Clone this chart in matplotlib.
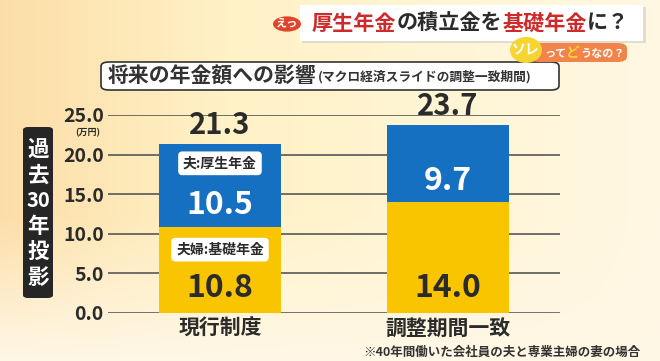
import matplotlib.pyplot as plt
import numpy as np
from matplotlib.patches import FancyBboxPatch, Circle, Ellipse

plt.rcParams['font.family'] = ['Noto Sans CJK JP', 'DejaVu Sans']

# data
categories = ['現行制度', '調整期間一致']
basic = [10.8, 14.0]      # 夫婦:基礎年金
employee = [10.5, 9.7]    # 夫:厚生年金
totals = [21.3, 23.7]
yticks = [0, 5, 10, 15, 20, 25]

W, H = 660, 361
BLUE = '#1570c2'
YELLOW = '#f9c400'
DARK = '#2b2b2b'


def fx(x):
    return x / W


def fy(y):
    return 1 - y / H


fig = plt.figure(figsize=(6.6, 3.61), dpi=100)

# background gradient
bg = fig.add_axes([0, 0, 1, 1], zorder=-10)
xx, yy = np.meshgrid(np.linspace(0, 1, 200), np.linspace(0, 1, 110))
c_left = np.array([0.99, 0.87, 0.66])
c_mid = np.array([1.0, 0.95, 0.78])
c_right = np.array([1.0, 0.97, 0.89])
t = xx[..., None]
img = np.where(t < 0.35, c_left + (c_mid - c_left) * (t / 0.35),
               c_mid + (c_right - c_mid) * ((t - 0.35) / 0.65))
# lighter towards the bottom
w = np.clip((yy[..., None] - 0.6) / 0.4, 0, 1)
img = img * (1 - w) + np.array([1.0, 0.97, 0.90]) * w
bg.imshow(img, aspect='auto', extent=[0, 1, 0, 1])
bg.set_axis_off()

# main axes
x0, x1, y_top, y_bot = 108, 560, 115, 313
ax = fig.add_axes([fx(x0), fy(y_bot), (x1 - x0) / W, (y_bot - y_top) / H])
ax.set_facecolor('none')
ax.set_ylim(0, 25)
ax.set_xlim(-0.491, 1.491)
for s in ax.spines.values():
    s.set_visible(False)
ax.set_xticks([])
ax.set_yticks(yticks)
ax.set_yticklabels([f'{v:.1f}' for v in yticks], fontsize=14, fontweight='bold', color=DARK)
ax.tick_params(axis='y', length=0, pad=3)
for v in yticks:
    ax.axhline(v, color='#4a4a4a', lw=1.1 if v else 1.8, zorder=1)

xs = np.arange(len(categories))
bw = 0.535
ax.bar(xs, basic, bw, color=YELLOW, zorder=2)
ax.bar(xs, employee, bw, bottom=basic, color=BLUE, zorder=2)

for i in xs:
    ax.text(i, totals[i] + 0.5, f'{totals[i]:.1f}', ha='center', va='bottom',
            fontsize=21, fontweight='bold', color=DARK, clip_on=False, zorder=4)
    ax.text(i, basic[i] + 0.27 * employee[i], f'{employee[i]:.1f}', ha='center', va='center',
            fontsize=23, fontweight='bold', color='white', zorder=4)
    ax.text(i, 3.2, f'{basic[i]:.1f}', ha='center', va='center',
            fontsize=23, fontweight='bold', color=DARK, zorder=4)
    ax.text(i, -0.6, categories[i], ha='center', va='top', fontsize=15,
            fontweight='bold', color=DARK, clip_on=False)

# tags on the first bar
tag_box = dict(boxstyle='round,pad=0.35,rounding_size=0.3', fc='white', ec='none')
ax.text(0, totals[0] - 2.4, '夫:厚生年金', ha='center', va='center', fontsize=10,
        fontweight='bold', color=DARK, bbox=tag_box, zorder=5)
ax.text(0, basic[0] - 2.8, '夫婦:基礎年金', ha='center', va='center', fontsize=10,
        fontweight='bold', color=DARK, bbox=tag_box, zorder=5)

fig.text(fx(88), fy(133), '(万円)', ha='center', va='center', fontsize=6.5,
         color=DARK, fontweight='bold')

# vertical label
fig.patches.append(FancyBboxPatch((fx(23), fy(298)), fx(30), (298 - 127) / H,
                                  boxstyle='round,pad=0,rounding_size=0.008',
                                  transform=fig.transFigure, fc='#262626', ec='none'))
vchars = ['過', '去', '30', '年', '投', '影']
for k, ch in enumerate(vchars):
    fig.text(fx(38), fy(150 + k * 25.4), ch, ha='center', va='center',
             fontsize=15.5 if ch != '30' else 14.5, fontweight='bold', color='white')

# subtitle box
fig.patches.append(FancyBboxPatch((fx(101), fy(90)), (559 - 101) / W, 28 / H,
                                  boxstyle='round,pad=0,rounding_size=0.012',
                                  transform=fig.transFigure, fc='white', ec='#333333', lw=1.2))
fig.text(fx(108), fy(76), '将来の年金額への影響', ha='left', va='center', fontsize=15,
         fontweight='bold', color='#333333')
fig.text(fx(318), fy(77), '(マクロ経済スライドの調整一致期間)', ha='left', va='center',
         fontsize=9.2, fontweight='bold', color='#333333')

# headline banner
fig.patches.append(FancyBboxPatch((fx(302), fy(43)), (646 - 302) / W, 36 / H,
                                  boxstyle='square,pad=0', transform=fig.transFigure,
                                  fc='#d9d2c4', ec='none', alpha=0.7))
fig.patches.append(FancyBboxPatch((fx(300), fy(41)), (643 - 300) / W, 36 / H,
                                  boxstyle='square,pad=0', transform=fig.transFigure,
                                  fc='white', ec='none'))
fig.patches.append(Circle((fx(287), fy(24)), 14 / W, transform=fig.transFigure,
                          fc='#e0452c', ec='none'))
fig.text(fx(287), fy(23), 'えっ', ha='center', va='center', fontsize=8,
         fontweight='bold', color='white')

renderer = fig.canvas.get_renderer()
parts = [('厚生年金', '#cf2a2a'), ('の積立金を', '#2b2b2b'), ('基礎年金', '#cf2a2a'), ('に？', '#2b2b2b')]
xpos = 312
for txt, col in parts:
    tt = fig.text(fx(xpos), fy(23), txt, ha='left', va='center', fontsize=15.2,
                  fontweight='bold', color=col)
    xpos += tt.get_window_extent(renderer).width

# "ソレってどうなの？" tag
fig.patches.append(FancyBboxPatch((fx(530), fy(62)), (627 - 530) / W, 19 / H,
                                  boxstyle='round,pad=0,rounding_size=0.015',
                                  transform=fig.transFigure, fc='#f2834a', ec='none'))
fig.patches.append(Ellipse((fx(526), fy(50)), 32 / W, 26 / H, transform=fig.transFigure,
                           fc='#f7d531', ec='none'))
fig.text(fx(526), fy(50), 'ソレ', ha='center', va='center', fontsize=10,
         fontweight='bold', color='white')
xpos = 544
for txt, col, fs in [('って', 'white', 8), ('ど', '#f7d531', 10), ('うなの？', 'white', 8)]:
    tt = fig.text(fx(xpos), fy(53), txt, ha='left', va='center', fontsize=fs,
                  fontweight='bold', color=col)
    xpos += tt.get_window_extent(renderer).width

fig.text(fx(363), fy(352), '※40年間働いた会社員の夫と専業主婦の妻の場合', ha='left',
         va='center', fontsize=9, fontweight='bold', color='#333333')

fig.savefig('out.png', dpi=100)
